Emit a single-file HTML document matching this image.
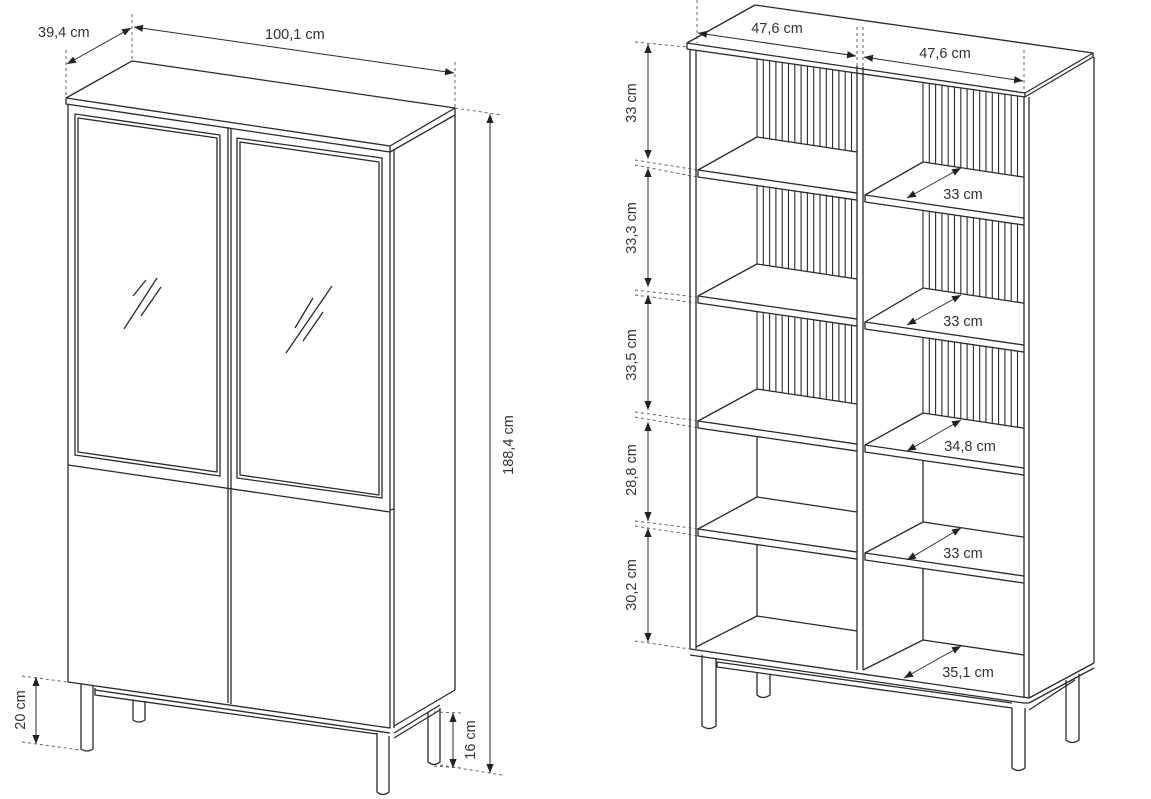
<!DOCTYPE html>
<html><head><meta charset="utf-8"><style>
html,body{margin:0;padding:0;background:#fff;}
svg{display:block;}
text{font-family:"Liberation Sans",sans-serif;font-size:14.5px;fill:#333;}
</style></head><body>
<svg id="s" width="1151" height="799" viewBox="0 0 1151 799" xmlns="http://www.w3.org/2000/svg">
<defs>
<marker id="a" viewBox="0 0 10 10" refX="10" refY="5" markerWidth="9" markerHeight="9" orient="auto-start-reverse" markerUnits="userSpaceOnUse"><path d="M0,1 L10,5 L0,9 z" fill="#222"/></marker>
</defs>
<g id="g" fill="none" stroke="#2a2a2a" stroke-width="1.3" stroke-linejoin="round">
<polygon points="132,61 455,108 390,146 66,98" fill="#fff"/>
<path d="M66,98 V104 L390,152 L455,115 V108 M390,146 V152"/>
<path d="M68,104 V682 L390,728 V152 M394,150 V728 M455,115 V690 L394,726"/>
<path d="M228,127 V703 M231,128 V704"/>
<polygon points="75,114 220,135 220,476 75,455"/>
<polygon points="78,118 217,138 217,472 78,452"/>
<polygon points="237,138 382,158 382,498 237,478"/>
<polygon points="240,142 379,162 379,495 240,475"/>
<path d="M68,465 L390,512 M390,510 L394,509"/>
<path d="M124,329 L157,278 M133,296 L146,280 M141,316 L161,287"/>
<path d="M286,353 L332,286 M295,328 L313,298 M303,341 L323,312"/>
<path d="M95,688 V695 L377,734 M95,690 L390,733 M394,738 L440,710 M394,733 L440,705"/>
<path d="M81,684 V749 Q87,753 93,749 V686"/>
<path d="M133,700 V720 Q139,724 145,720 V701"/>
<path d="M377,733 V792 Q383,797 389,792 V736"/>
<path d="M428,712 V762 Q434,767 440,762 V708"/>
<g stroke-width="0.9" stroke-dasharray="3,3" stroke="#555">
<path d="M66,50 V97 M132,14 V60 M455,62 V108 M455,108 L502,115 M440,765 L502,775 M22,676 L67,682 M22,742 L80,750 M434,712 L462,713 M434,766 L462,768"/>
</g>
<g stroke-width="1">
<path d="M67,64 L131,28" marker-start="url(#a)" marker-end="url(#a)"/>
<path d="M134,27 L454,73" marker-start="url(#a)" marker-end="url(#a)"/>
<path d="M490,114 V773" marker-start="url(#a)" marker-end="url(#a)"/>
<path d="M36,677 V744" marker-start="url(#a)" marker-end="url(#a)"/>
<path d="M453,713 V768" marker-start="url(#a)" marker-end="url(#a)"/>
</g>
<polygon points="755,5 1093,53 1025,93 687,43" fill="#fff"/>
<path d="M687,43 V49 L1025,97 L1093,57 V53 M1025,93 V97"/>
<path d="M690,49 V649 M696,50 V649 M857,66 V670 M863,67 V670 M1024,97 V698 M1029,97 V698 M1094,57 V663"/>
<path d="M690,649 L1029,698 M690,655 L1024,703 L1029,703 M1029,698 L1094,663 M1029,710 L1075,680 M1029,703 L1094,668"/>
<path d="M717,662 V667 L1012,708 M717,662 L1012,703"/>
<path d="M702,655 V726 Q709,731 716,726 V658"/>
<path d="M757,673 V695 Q763,700 770,695 V675"/>
<path d="M1012,708 V768 Q1018,773 1025,768 V708"/>
<path d="M1066,680 V740 Q1072,745 1079,740 V674"/>
<g id="shelves"></g>
<g id="slats" stroke-width="1.1"></g>
<g stroke-width="0.9" stroke-dasharray="3,3" stroke="#555">
<path d="M697,0 V43 M857,27 V66 M863,27 V66 M1024,50 V93"/>
<path d="M635,42 L687,47 M635,160 L697,170 M635,165 L697,177 M635,290 L697,297 M635,295 L697,303 M635,412 L699,421 M635,417 L699,428 M635,521 L699,529 M635,526 L699,536 M635,641 L690,649"/>
</g>
<g stroke-width="1">
<path d="M698,33 L856,56" marker-start="url(#a)" marker-end="url(#a)"/>
<path d="M864,57 L1023,81" marker-start="url(#a)" marker-end="url(#a)"/>
<path d="M648,44 V159" marker-start="url(#a)" marker-end="url(#a)"/>
<path d="M648,168 V287" marker-start="url(#a)" marker-end="url(#a)"/>
<path d="M648,295 V410" marker-start="url(#a)" marker-end="url(#a)"/>
<path d="M648,422 V521" marker-start="url(#a)" marker-end="url(#a)"/>
<path d="M648,528 V642" marker-start="url(#a)" marker-end="url(#a)"/>
<path d="M907,198 L961,168" marker-start="url(#a)" marker-end="url(#a)"/>
<path d="M907,325 L961,295" marker-start="url(#a)" marker-end="url(#a)"/>
<path d="M907,451 L961,420" marker-start="url(#a)" marker-end="url(#a)"/>
<path d="M907,560 L961,528" marker-start="url(#a)" marker-end="url(#a)"/>
<path d="M904,678 L961,646" marker-start="url(#a)" marker-end="url(#a)"/>
</g>
</g>
<text x="38" y="37">39,4 cm</text>
<text x="265" y="39">100,1 cm</text>
<text transform="translate(513,445) rotate(-90)" text-anchor="middle">188,4 cm</text>
<text transform="translate(25,710) rotate(-90)" text-anchor="middle">20 cm</text>
<text transform="translate(475,740) rotate(-90)" text-anchor="middle">16 cm</text>
<text x="777" y="33" text-anchor="middle">47,6 cm</text>
<text x="945" y="58" text-anchor="middle">47,6 cm</text>
<text transform="translate(636,103) rotate(-90)" text-anchor="middle">33 cm</text>
<text transform="translate(636,228) rotate(-90)" text-anchor="middle">33,3 cm</text>
<text transform="translate(636,355) rotate(-90)" text-anchor="middle">33,5 cm</text>
<text transform="translate(636,470) rotate(-90)" text-anchor="middle">28,8 cm</text>
<text transform="translate(636,585) rotate(-90)" text-anchor="middle">30,2 cm</text>
<text x="963" y="199" text-anchor="middle">33 cm</text>
<text x="963" y="326" text-anchor="middle">33 cm</text>
<text x="970" y="451" text-anchor="middle">34,8 cm</text>
<text x="963" y="558" text-anchor="middle">33 cm</text>
<text x="968" y="677" text-anchor="middle">35,1 cm</text>
</svg>
<script>
(function(){
var NS="http://www.w3.org/2000/svg";
var sh=document.getElementById("shelves"), sl=document.getElementById("slats");
function p(d,g){var e=document.createElementNS(NS,"path");e.setAttribute("d",d);(g||sh).appendChild(e);}
var m=0.145;
var L=[[170,137],[296,264],[421,389],[529,497]];
var R=[[195,162],[322,288],[445,413],[553,522]];
function shelf(x0,xb,xr,f,b){
  var w=xr-x0;
  p("M"+xb+","+b+" L"+x0+","+f+" L"+xr+","+(f+w*m)+" M"+x0+","+f+" V"+(f+7)+" L"+xr+","+(f+7+w*m)+" M"+xb+","+b+" L"+xr+","+(b+(xr-xb)*0.15));
}
L.forEach(function(s){shelf(698,757,857,s[0],s[1]);});
R.forEach(function(s){shelf(865,923,1024,s[0],s[1]);});
p("M757,616 L696,647 M757,616 L857,631");
p("M923,640 L863,670 M923,640 L1024,655");
function slats(xb,xr,tops,bots){
  for(var i=0;i<tops.length;i++){
    for(var x=xb;x<=xr-2;x+=6.3){
      var t=tops[i]+(x-xb)*0.142, bo=bots[i]+(x-xb)*0.15;
      p("M"+x.toFixed(1)+","+t.toFixed(1)+" V"+bo.toFixed(1),sl);
    }
  }
}
slats(757,857,[59,185,312],[137,264,389]);
slats(923,1024,[83,210,337],[162,288,413]);
p("M757,437 V497 M757,545 V616");
p("M923,461 V522 M923,569 V640");
})();
</script>
</body></html>
